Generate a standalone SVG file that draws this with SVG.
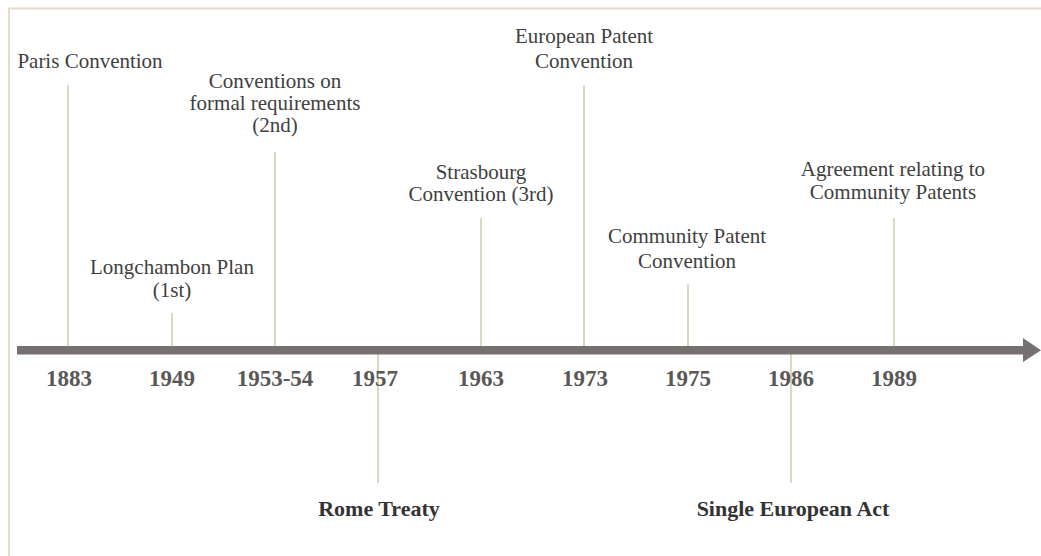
<svg xmlns="http://www.w3.org/2000/svg" width="1041" height="556" viewBox="0 0 1041 556">
<style>
.lbl{font-family:"Liberation Serif","Times New Roman",serif;font-size:21px;fill:#404040;text-anchor:middle}
.yr{font-family:"Liberation Serif","Times New Roman",serif;font-size:23px;font-weight:bold;fill:#5a5757;text-anchor:middle}
.bl{font-family:"Liberation Serif","Times New Roman",serif;font-size:22px;font-weight:bold;fill:#333;text-anchor:middle}
.tick{stroke:#cdc3a0;stroke-width:1.3;fill:none}
</style>
<rect width="1041" height="556" fill="#fff"/>
<path d="M9 556 V8.5 H1041" fill="none" stroke="#e2dcc8" stroke-width="2"/>
<g id="connectors">
<line class="tick" x1="68" y1="85" x2="68" y2="346"/>
<line class="tick" x1="172" y1="313" x2="172" y2="346"/>
<line class="tick" x1="275" y1="152" x2="275" y2="346"/>
<line class="tick" x1="378" y1="354" x2="378" y2="483"/>
<line class="tick" x1="481" y1="218" x2="481" y2="346"/>
<line class="tick" x1="584" y1="85" x2="584" y2="346"/>
<line class="tick" x1="688" y1="284" x2="688" y2="346"/>
<line class="tick" x1="791" y1="354" x2="791" y2="483"/>
<line class="tick" x1="894" y1="218" x2="894" y2="346"/>
</g>
<g id="axis">
<rect x="17" y="346" width="1008" height="8.5" fill="#767070"/>
<polygon points="1023,338 1041,350.2 1023,362" fill="#767070"/>
</g>
<g id="years">
<text class="yr" x="69" y="386">1883</text>
<text class="yr" x="172" y="386">1949</text>
<text class="yr" x="275" y="386">1953-54</text>
<text class="yr" x="375" y="386">1957</text>
<text class="yr" x="481" y="386">1963</text>
<text class="yr" x="585" y="386">1973</text>
<text class="yr" x="688" y="386">1975</text>
<text class="yr" x="791" y="386">1986</text>
<text class="yr" x="894" y="386">1989</text>
</g>
<g id="paris"><text class="lbl" x="90" y="68">Paris Convention</text></g>
<g id="longchambon"><text class="lbl" x="172" y="274">Longchambon Plan</text><text class="lbl" x="172" y="297">(1st)</text></g>
<g id="conventions2nd"><text class="lbl" x="275" y="88">Conventions on</text><text class="lbl" x="275" y="110">formal requirements</text><text class="lbl" x="275" y="132">(2nd)</text></g>
<g id="rome"><text class="bl" x="379" y="516">Rome Treaty</text></g>
<g id="strasbourg"><text class="lbl" x="481" y="179">Strasbourg</text><text class="lbl" x="481" y="201">Convention (3rd)</text></g>
<g id="epc"><text class="lbl" x="584" y="43">European Patent</text><text class="lbl" x="584" y="68">Convention</text></g>
<g id="cpc"><text class="lbl" x="687" y="243">Community Patent</text><text class="lbl" x="687" y="268">Convention</text></g>
<g id="sea"><text class="bl" x="793" y="516">Single European Act</text></g>
<g id="agreement"><text class="lbl" x="893" y="176">Agreement relating to</text><text class="lbl" x="893" y="199">Community Patents</text></g>
</svg>
